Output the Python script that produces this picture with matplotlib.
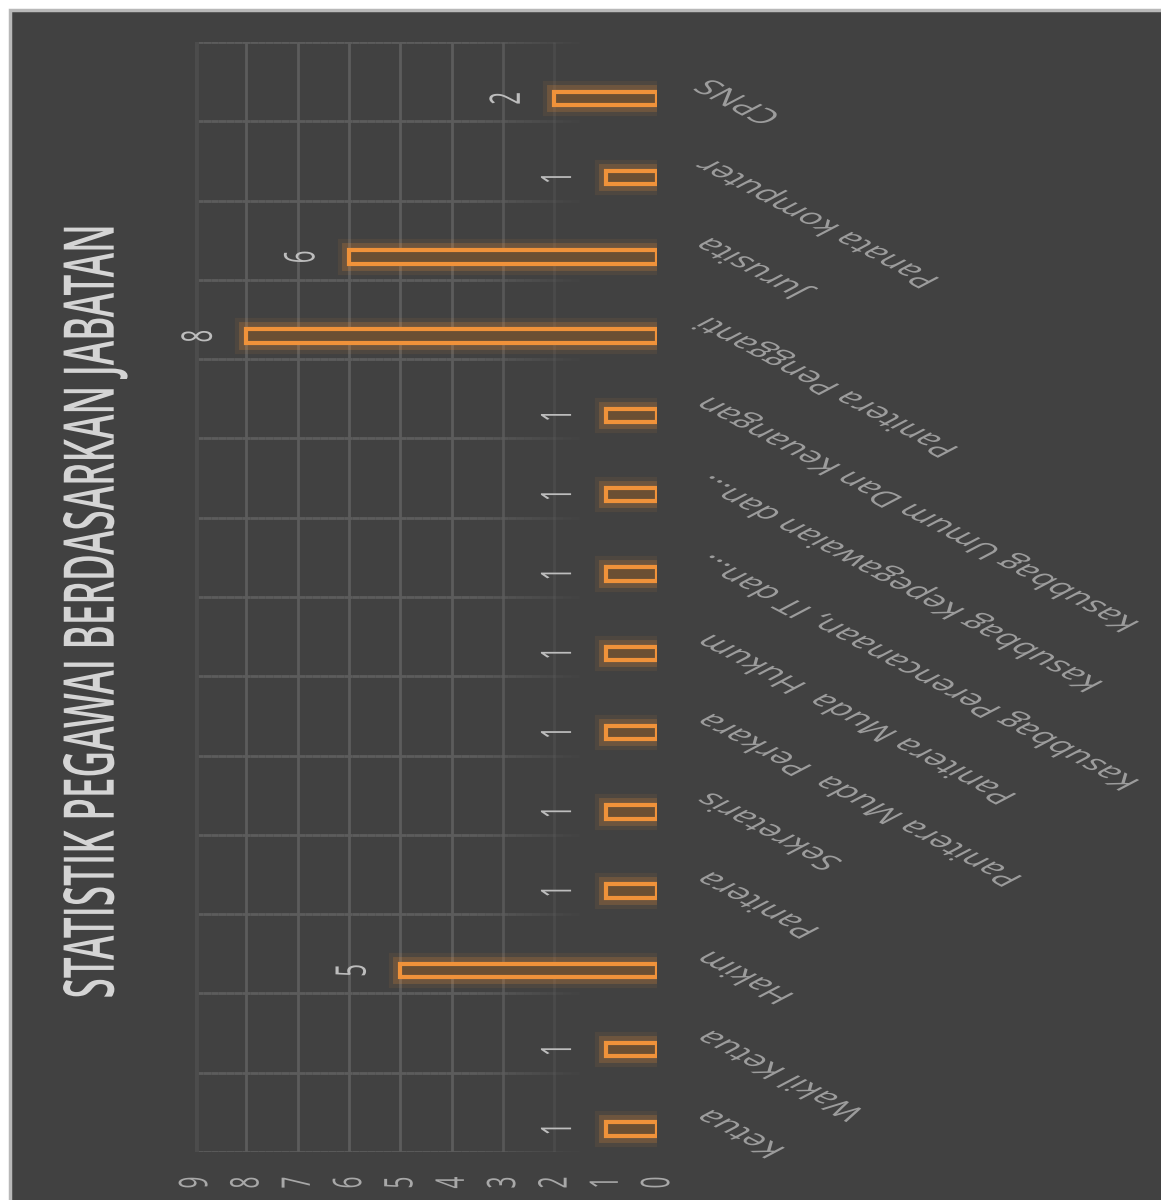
"""
Statistik pegawai berdasarkan jabatan - rotated column chart, dark theme.
"""
import numpy as np
import matplotlib
matplotlib.use("Agg")
import matplotlib.pyplot as plt
import matplotlib.patheffects as pe
from matplotlib.patches import Rectangle
from matplotlib.collections import LineCollection
from matplotlib.transforms import Affine2D

title = "STATISTIK PEGAWAI BERDASARKAN JABATAN"
jabatan = ["Ketua", "Wakil Ketua", "Hakim", "Panitera", "Sekretaris",
           "Panitera Muda  Perkara", "Panitera Muda  Hukum",
           "Kasubbag Perencanaan, IT dan...", "Kasubbag Kepegawaian dan...",
           "Kasubbag Umum Dan Keuangan", "Panitera Pengganti", "Jurusita",
           "Panata komputer", "CPNS"]
jumlah = [1, 1, 5, 1, 1, 1, 1, 1, 1, 1, 8, 6, 1, 2]
ticks = list(range(10))

ORANGE = "#f0923a"
BG = "#414141"
SX = 1.9  # the reference picture is stretched sideways


class Stretch(pe.AbstractPathEffect):
    # widen glyphs horizontally around a pivot inside the text
    def __init__(self, sx, fx=0.5, fy=0.5):
        super().__init__()
        self.sx, self.fx, self.fy = sx, fx, fy

    def draw_path(self, renderer, gc, tpath, affine, rgbFace=None):
        ext = tpath.get_extents()
        px = ext.x0 + self.fx * ext.width
        py = ext.y0 + self.fy * ext.height
        cx = affine.transform([[px, py]])[0][0]
        affine = affine + Affine2D().translate(-cx, 0).scale(self.sx, 1).translate(cx, 0)
        renderer.draw_path(gc, tpath, affine, rgbFace)


fig = plt.figure(figsize=(11.61, 12.0), dpi=100, facecolor="white")
fig.patches.append(Rectangle((10 / 1161, -0.01), 1.02, 1 - 10 / 1200 + 0.01,
                             transform=fig.transFigure, facecolor=BG,
                             edgecolor="#b8b8b8", linewidth=2.5, zorder=-5))

ax = fig.add_axes([195 / 1161, 48 / 1200, 462 / 1161, 1110 / 1200])
ax.set_zorder(2)
ax.set_facecolor("none")
y = np.arange(len(jabatan))
ybar = y - 0.21  # bars sit a little below the category centre

# fading grid
segs, cols = [], []
xs = np.linspace(9, 0, 60)
for yb in np.arange(-0.5, len(jabatan)):
    for a, b in zip(xs[:-1], xs[1:]):
        al = np.clip(((a + b) / 2 - 1.4) / 2.2, 0, 1)
        segs.append([(a, yb), (b, yb)])
        cols.append((0.36, 0.36, 0.36, al))
for v in range(2, 9):
    al = np.clip((v - 1.2) / 2.2, 0, 1)
    segs.append([(v, -0.5), (v, len(jabatan) - 0.5)])
    cols.append((0.36, 0.36, 0.36, al))
ax.add_collection(LineCollection(segs, colors=cols, linewidths=2, zorder=1))
ax.plot([9, 9], [-0.5, len(jabatan) - 0.5], color="#4c4c4c", lw=5, zorder=1)

bars = ax.barh(ybar, jumlah, height=0.17, color="#6b4f33", edgecolor=ORANGE,
               linewidth=3, zorder=3)
for b in bars:
    b.set_path_effects([pe.Stroke(linewidth=16, foreground=ORANGE, alpha=0.08),
                        pe.Stroke(linewidth=10, foreground=ORANGE, alpha=0.2),
                        pe.Normal()])

for yi, v in zip(ybar, jumlah):
    t = ax.annotate(str(v), (v, yi), xytext=(-34, 0), textcoords="offset points",
                    rotation=90, ha="center", va="center", fontsize=16,
                    color="#bdbdbd", family="Open Sans", zorder=4)
    t.set_path_effects([Stretch(SX)])

ax.set_xlim(9, 0)
ax.set_ylim(-0.5, len(jabatan) - 0.5)
ax.set_xticks(ticks)
ax.set_xticklabels([str(t) for t in ticks], rotation=90, fontsize=15,
                   color="#a8a8a8", family="Open Sans", va="center")
ax.tick_params(axis="x", length=0, pad=22)
for t in ax.get_xticklabels():
    t.set_path_effects([Stretch(SX)])

ax.yaxis.tick_right()
ax.set_yticks(y)
ax.set_yticklabels(jabatan, rotation=135, ha="right", va="center",
                   rotation_mode="anchor", fontsize=15.3, color="#9c9c9c",
                   family="Open Sans")
ax.tick_params(axis="y", length=0, pad=33)
for t in ax.get_yticklabels():
    t.set_path_effects([Stretch(SX, fx=1.0, fy=0.5)])

for s in ax.spines.values():
    s.set_visible(False)

tt = fig.text(96 / 1161, 1 - 612 / 1200, title, rotation=90, ha="center",
              va="center", fontsize=26.5, color="#d4d4d4", family="Open Sans",
              fontweight="semibold")
tt.set_path_effects([Stretch(SX)])

fig.savefig("out.png", dpi=100, facecolor="white")
